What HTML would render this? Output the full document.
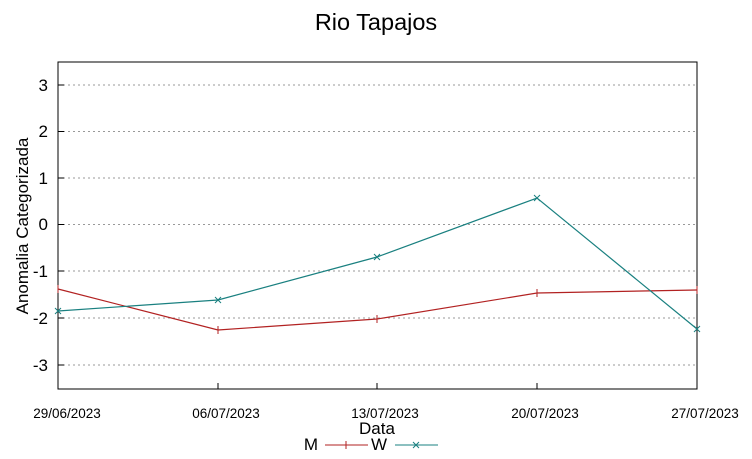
<!DOCTYPE html>
<html><head><style>body{margin:0;background:#fff}svg{display:block}text{font-family:"Liberation Sans",sans-serif}</style></head><body>
<svg width="752" height="459" viewBox="0 0 752 459" xmlns="http://www.w3.org/2000/svg">
<rect width="752" height="459" fill="#fff"/>
<text x="376" y="30" font-size="23.5" text-anchor="middle">Rio Tapajos</text>
<g stroke="#999" stroke-width="1" stroke-dasharray="2,3">
<line x1="58" x2="697" y1="85" y2="85"/><line x1="58" x2="697" y1="131.5" y2="131.5"/><line x1="58" x2="697" y1="178" y2="178"/><line x1="58" x2="697" y1="224.5" y2="224.5"/><line x1="58" x2="697" y1="271" y2="271"/><line x1="58" x2="697" y1="318" y2="318"/><line x1="58" x2="697" y1="365" y2="365"/>
</g>
<rect x="58" y="62" width="639" height="327" fill="none" stroke="#000" stroke-width="1"/>
<g stroke="#000"><line x1="58" x2="64" y1="85" y2="85"/><line x1="58" x2="64" y1="131.5" y2="131.5"/><line x1="58" x2="64" y1="178" y2="178"/><line x1="58" x2="64" y1="224.5" y2="224.5"/><line x1="58" x2="64" y1="271" y2="271"/><line x1="58" x2="64" y1="318" y2="318"/><line x1="58" x2="64" y1="365" y2="365"/>
<line x1="218" x2="218" y1="389" y2="383"/><line x1="377" x2="377" y1="389" y2="383"/><line x1="537" x2="537" y1="389" y2="383"/></g>
<g font-size="17" text-anchor="end"><text x="48" y="91">3</text><text x="48" y="137">2</text><text x="48" y="184">1</text><text x="48" y="230">0</text><text x="48" y="277">-1</text><text x="48" y="324">-2</text><text x="48" y="371">-3</text></g>
<g font-size="13.5" text-anchor="middle" textLength="69"><text x="67" y="418">29/06/2023</text><text x="226" y="418">06/07/2023</text><text x="385" y="418">13/07/2023</text><text x="545" y="418">20/07/2023</text><text x="705" y="418">27/07/2023</text></g>
<text x="377" y="434" font-size="17" text-anchor="middle">Data</text>
<text transform="translate(28,226) rotate(-90)" font-size="17" text-anchor="middle">Anomalia Categorizada</text>
<polyline fill="none" stroke="#b22222" stroke-width="1.2" points="58,289 218,330 377,319 537,293 697,290"/>
<g stroke="#b22222"><path d="M218,326v8M377,315v8M537,289v8M697,286v8M58,285v8"/></g>
<polyline fill="none" stroke="#1a8080" stroke-width="1.2" points="58,311 218,300 377,257 537,198 697,329"/>
<g stroke="#1a8080"><path d="M55,308l6,6M61,308l-6,6M215,297l6,6M221,297l-6,6M374,254l6,6M380,254l-6,6M534,195l6,6M540,195l-6,6M694,326l6,6M700,326l-6,6"/></g>
<text x="318" y="450" font-size="17" text-anchor="end">M</text>
<line x1="325" x2="368" y1="445" y2="445" stroke="#b22222"/><line x1="346" x2="346" y1="441" y2="449" stroke="#b22222"/>
<text x="387" y="450" font-size="17" text-anchor="end">W</text>
<line x1="395" x2="438" y1="445" y2="445" stroke="#1a8080"/><path d="M413,442l6,6M419,442l-6,6" stroke="#1a8080"/>
</svg>
</body></html>
